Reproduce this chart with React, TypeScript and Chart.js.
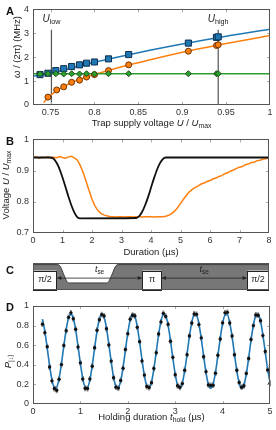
import React, { useEffect, useRef } from "react";
import { Chart, registerables } from "chart.js";
Chart.register(...registerables);

const FONT = '"Liberation Sans", Arial, sans-serif';

// ---------------- Panel A data ----------------
const aTicksX = [0.75, 0.8, 0.85, 0.9, 0.95, 1];
const aTickLabelsX = ["0.75", "0.8", "0.85", "0.9", "0.95", "1"];
const aTicksY = [0, 1, 2, 3, 4];
const aTickLabelsY = ["0", "1", "2", "3", "4"];
const blueX = [0.738, 0.747, 0.756, 0.765, 0.774, 0.783, 0.791, 0.8, 0.816, 0.839, 0.907, 0.939, 0.941];
const blueY = [1.27, 1.33, 1.44, 1.52, 1.61, 1.68, 1.75, 1.8, 1.93, 2.11, 2.59, 2.83, 2.85];
const orangeX = [0.747, 0.757, 0.765, 0.774, 0.783, 0.791, 0.8, 0.816, 0.839, 0.907, 0.939, 0.941];
const orangeY = [0.33, 0.63, 0.76, 0.95, 1.04, 1.17, 1.27, 1.44, 1.68, 2.25, 2.49, 2.52];
const greenX = [0.738, 0.747, 0.756, 0.765, 0.774, 0.783, 0.791, 0.8, 0.816, 0.839, 0.907, 0.939, 0.941];
const greenY = [1.3, 1.31, 1.31, 1.3, 1.31, 1.3, 1.31, 1.3, 1.31, 1.31, 1.31, 1.31, 1.31];
const blueFitX = [0.73, 0.75, 0.8, 0.85, 0.9, 0.95, 1.0];
const blueFitY = [1.2, 1.33, 1.79, 2.19, 2.55, 2.88, 3.17];
const orangeFitX = [0.742, 0.745, 0.75, 0.76, 0.77, 0.78, 0.8, 0.825, 0.85, 0.9, 0.95, 1.0];
const orangeFitY = [0.1, 0.22, 0.4, 0.66, 0.87, 1.03, 1.28, 1.54, 1.77, 2.21, 2.57, 2.91];
const greenFitX = [0.73, 1.0];
const greenFitY = [1.31, 1.31];
const uLow = 0.751;
const uHigh = 0.941;
const uLineTop = 3.15;

// ---------------- Panel B data ----------------
const bTicksX = [0, 1, 2, 3, 4, 5, 6, 7, 8];
const bTickLabelsX = ["0", "1", "2", "3", "4", "5", "6", "7", "8"];
const bTicksY = [0.7, 0.8, 0.9, 1];
const bTickLabelsY = ["0.7", "0.8", "0.9", "1"];
const blackT = [0, 0.6, 0.7, 0.8, 0.9, 1.0, 1.1, 1.2, 1.3, 1.4, 1.5, 1.6, 3.5, 3.6, 3.7, 3.8, 3.9, 4.0, 4.1, 4.2, 4.3, 4.4, 4.5, 8];
const blackV = [0.942, 0.942, 0.938, 0.925, 0.905, 0.878, 0.848, 0.817, 0.789, 0.766, 0.751, 0.747, 0.748, 0.754, 0.768, 0.789, 0.815, 0.845, 0.875, 0.902, 0.923, 0.937, 0.942, 0.942];
const measStep = 0.1;
const measV = [
  0.942, 0.944, 0.94, 0.943, 0.941, 0.944, 0.94, 0.943, 0.941, 0.945, 0.942, 0.94, 0.944, 0.946, 0.941,
  0.934, 0.917, 0.894, 0.866, 0.836, 0.808, 0.787, 0.772, 0.763, 0.758, 0.755, 0.753,
  0.752, 0.751, 0.752, 0.752, 0.751, 0.752, 0.752, 0.751, 0.752, 0.752, 0.751, 0.752, 0.752, 0.752, 0.751, 0.752, 0.752, 0.752,
  0.754, 0.757, 0.762, 0.77, 0.781, 0.794, 0.808, 0.821, 0.832, 0.84, 0.846, 0.851, 0.857, 0.86, 0.865, 0.868,
  0.873, 0.876, 0.881, 0.884, 0.89, 0.893, 0.899, 0.902, 0.907, 0.911, 0.913, 0.919, 0.921, 0.926, 0.927, 0.932,
  0.933, 0.937, 0.938, 0.942,
];

// ---------------- Panel C data ----------------
const cLevelX = [0, 10.5, 11.5, 13, 14.5, 15.5, 31, 32, 33.5, 35, 36, 100];
const cLevelY = [0.94, 0.94, 0.88, 0.58, 0.3, 0.26, 0.26, 0.3, 0.58, 0.88, 0.94, 0.94];
const cPulseStart = [0, 46.1, 90.5];
const cPulseEnd = [10.3, 54.6, 100];
const cPulseLabels = ["π/2", "π", "π/2"];

// ---------------- Panel D data ----------------
const dTicksX = [0, 1, 2, 3, 4, 5];
const dTickLabelsX = ["0", "1", "2", "3", "4", "5"];
const dTicksY = [0, 0.2, 0.4, 0.6, 0.8, 1];
const dTickLabelsY = ["0", "0.2", "0.4", "0.6", "0.8", "1"];
const holdStart = 0.2;
const holdStep = 0.05;
const popData = [
  0.815, 0.728, 0.585, 0.378, 0.236, 0.158, 0.14, 0.252, 0.402, 0.598, 0.748, 0.884, 0.93,
  0.87, 0.762, 0.582, 0.42, 0.255, 0.16, 0.158, 0.256, 0.385, 0.575, 0.752, 0.86,
  0.912, 0.898, 0.768, 0.602, 0.438, 0.268, 0.172, 0.162, 0.24, 0.365, 0.556, 0.718,
  0.866, 0.905, 0.899, 0.782, 0.636, 0.44, 0.295, 0.178, 0.168, 0.218, 0.362, 0.523,
  0.714, 0.838, 0.925, 0.894, 0.812, 0.641, 0.476, 0.298, 0.186, 0.17, 0.208, 0.345,
  0.502, 0.695, 0.826, 0.918, 0.915, 0.81, 0.675, 0.482, 0.33, 0.195, 0.19, 0.192,
  0.315, 0.498, 0.663, 0.828, 0.93, 0.935, 0.826, 0.694, 0.502, 0.345, 0.22, 0.172,
  0.186, 0.312, 0.464, 0.658, 0.8, 0.908, 0.905, 0.85, 0.698, 0.536, 0.348, 0.212,
];
const popFit = [
  0.867, 0.742, 0.57, 0.392, 0.248, 0.169, 0.173, 0.261, 0.411, 0.59, 0.758, 0.877, 0.92,
  0.877, 0.758, 0.59, 0.411, 0.261, 0.173, 0.169, 0.248, 0.392, 0.57, 0.742, 0.867,
  0.919, 0.886, 0.774, 0.61, 0.43, 0.275, 0.179, 0.165, 0.235, 0.374, 0.55, 0.724,
  0.857, 0.918, 0.894, 0.79, 0.63, 0.449, 0.289, 0.186, 0.162, 0.224, 0.356, 0.53,
  0.707, 0.845, 0.915, 0.901, 0.805, 0.649, 0.469, 0.305, 0.194, 0.161, 0.213, 0.339,
  0.51, 0.688, 0.833, 0.912, 0.906, 0.819, 0.668, 0.489, 0.321, 0.202, 0.16, 0.203,
  0.322, 0.491, 0.67, 0.82, 0.907, 0.911, 0.832, 0.687, 0.509, 0.338, 0.212, 0.16,
  0.194, 0.306, 0.471, 0.651, 0.806, 0.901, 0.915, 0.844, 0.705, 0.529, 0.355, 0.223,
];
const popErr = 0.03;

// ---------------- helpers ----------------
type Seg = { t: string; it?: boolean; sub?: boolean };

function drawRich(ctx: CanvasRenderingContext2D, segs: Seg[], x: number, y: number, size: number, rotate = false, color = "#222") {
  ctx.save();
  ctx.translate(x, y);
  if (rotate) ctx.rotate(-Math.PI / 2);
  const fontFor = (s: Seg) => `${s.it ? "italic " : ""}${s.sub ? size * 0.72 : size}px ${FONT}`;
  let total = 0;
  const widths = segs.map((s) => {
    ctx.font = fontFor(s);
    const w = ctx.measureText(s.t).width;
    total += w;
    return w;
  });
  let cx = -total / 2;
  ctx.fillStyle = color;
  ctx.textBaseline = "middle";
  ctx.textAlign = "left";
  segs.forEach((s, i) => {
    ctx.font = fontFor(s);
    ctx.fillText(s.t, cx, s.sub ? size * 0.3 : 0);
    cx += widths[i];
  });
  ctx.restore();
}

function axis(min: number, max: number, ticks: number[], labels: string[], size: number, isX: boolean) {
  return {
    type: "linear" as const,
    min,
    max,
    grid: { display: false, drawTicks: false },
    border: { display: false },
    ticks: {
      font: { family: FONT, size: 9 },
      color: "#333",
      padding: isX ? 2 : 4,
      autoSkip: false,
      maxRotation: 0,
      callback: (v: any) => {
        const i = ticks.findIndex((t) => Math.abs(t - v) < 1e-9);
        return i >= 0 ? labels[i] : "";
      },
    },
    afterBuildTicks: (s: any) => {
      s.ticks = ticks.map((v) => ({ value: v }));
    },
    afterFit: (s: any) => {
      if (isX) s.height = size;
      else s.width = size;
    },
  };
}

type FrameCfg = {
  letter: string;
  letterY: number;
  xTitle?: Seg[];
  xTitleY?: number;
  yTitle?: Seg[];
  yTitleX?: number;
  yTitleY?: number;
  innerTicks?: boolean;
  extra?: (chart: any) => void;
  under?: (chart: any) => void;
};

function framePlugin(cfg: FrameCfg) {
  return {
    id: "frame",
    beforeDatasetsDraw(chart: any) {
      if (cfg.under) cfg.under(chart);
    },
    afterDraw(chart: any) {
      const ctx: CanvasRenderingContext2D = chart.ctx;
      const a = chart.chartArea;
      ctx.save();
      if (cfg.extra) cfg.extra(chart);
      if (cfg.innerTicks !== false) {
        ctx.strokeStyle = "#aaa";
        ctx.lineWidth = 1;
        const xs = chart.scales.x;
        const ys = chart.scales.y;
        ctx.beginPath();
        xs.ticks.forEach((t: any) => {
          const px = Math.round(xs.getPixelForValue(t.value)) + 0.5;
          if (px <= a.left + 1 || px >= a.right - 1) return;
          ctx.moveTo(px, a.bottom);
          ctx.lineTo(px, a.bottom - 3);
          ctx.moveTo(px, a.top);
          ctx.lineTo(px, a.top + 3);
        });
        ys.ticks.forEach((t: any) => {
          const py = Math.round(ys.getPixelForValue(t.value)) + 0.5;
          if (py <= a.top + 1 || py >= a.bottom - 1) return;
          ctx.moveTo(a.left, py);
          ctx.lineTo(a.left + 3, py);
          ctx.moveTo(a.right, py);
          ctx.lineTo(a.right - 3, py);
        });
        ctx.stroke();
      }
      ctx.strokeStyle = "#555";
      ctx.lineWidth = 1;
      ctx.strokeRect(Math.round(a.left) + 0.5, Math.round(a.top) + 0.5, Math.round(a.right - a.left) - 1, Math.round(a.bottom - a.top) - 1);
      if (cfg.xTitle) drawRich(ctx, cfg.xTitle, (a.left + a.right) / 2, cfg.xTitleY!, 9.5);
      if (cfg.yTitle) drawRich(ctx, cfg.yTitle, cfg.yTitleX!, cfg.yTitleY ?? (a.top + a.bottom) / 2, 9.5, true);
      ctx.font = `bold 11px ${FONT}`;
      ctx.fillStyle = "#111";
      ctx.textAlign = "center";
      ctx.textBaseline = "middle";
      ctx.fillText(cfg.letter, 10, cfg.letterY);
      ctx.restore();
    },
  };
}

const base = {
  responsive: false,
  animation: false as const,
  devicePixelRatio: 1,
  events: [] as any[],
  plugins: { legend: { display: false }, tooltip: { enabled: false } },
};

const BLUE = "#1f77b4";
const ORANGE = "#ff7f0e";
const GREEN = "#2ca02c";

function zip(xs: number[], ys: number[]) {
  return xs.map((x, i) => ({ x, y: ys[i] }));
}

export default function App() {
  const rA = useRef<HTMLCanvasElement>(null);
  const rB = useRef<HTMLCanvasElement>(null);
  const rC = useRef<HTMLCanvasElement>(null);
  const rD = useRef<HTMLCanvasElement>(null);

  useEffect(() => {
    const charts: Chart[] = [];

    // ----- Panel A -----
    charts.push(
      new Chart(rA.current!, {
        type: "scatter",
        data: {
          datasets: [
            { data: zip(greenX, greenY), pointStyle: "rectRot", pointRadius: 3, backgroundColor: GREEN, borderColor: "#1b4d1b", borderWidth: 1 },
            { data: zip(orangeX, orangeY), pointStyle: "circle", pointRadius: 3, backgroundColor: ORANGE, borderColor: "#6b3300", borderWidth: 1 },
            { data: zip(blueX, blueY), pointStyle: "rect", pointRadius: 4.3, backgroundColor: BLUE, borderColor: "#0f2f4f", borderWidth: 1 },
            { data: zip(greenFitX, greenFitY), showLine: true, pointRadius: 0, borderColor: GREEN, borderWidth: 1.5 },
            { data: zip(orangeFitX, orangeFitY), showLine: true, pointRadius: 0, borderColor: ORANGE, borderWidth: 1.5, cubicInterpolationMode: "monotone" },
            { data: zip(blueFitX, blueFitY), showLine: true, pointRadius: 0, borderColor: BLUE, borderWidth: 1.5, cubicInterpolationMode: "monotone" },
            { data: [{ x: uLow, y: 0 }, { x: uLow, y: uLineTop }], showLine: true, pointRadius: 0, borderColor: "#555", borderWidth: 1.2 },
            { data: [{ x: uHigh, y: 0 }, { x: uHigh, y: uLineTop }], showLine: true, pointRadius: 0, borderColor: "#555", borderWidth: 1.2 },
          ] as any,
        },
        options: {
          ...base,
          layout: { padding: { top: 5, right: 6, left: 0, bottom: 0 } },
          scales: {
            x: axis(0.73, 1, aTicksX, aTickLabelsX, 25, true),
            y: axis(0, 4, aTicksY, aTickLabelsY, 33, false),
          } as any,
        },
        plugins: [
          framePlugin({
            letter: "A",
            letterY: 12,
            xTitle: [{ t: "Trap supply voltage " }, { t: "U", it: true }, { t: " / " }, { t: "U", it: true }, { t: "max", sub: true }],
            xTitleY: 123,
            yTitle: [{ t: "ω", it: true }, { t: " / (2π) (MHz)" }],
            yTitleX: 17,
            yTitleY: 47,
            extra: (chart) => {
              const ctx = chart.ctx;
              const xs = chart.scales.x;
              drawRich(ctx, [{ t: "U", it: true }, { t: "low", sub: true }], xs.getPixelForValue(uLow), 19, 10);
              drawRich(ctx, [{ t: "U", it: true }, { t: "high", sub: true }], xs.getPixelForValue(uHigh), 19, 10);
            },
          }) as any,
        ],
      })
    );

    // ----- Panel B -----
    const measData = measV.map((v, i) => ({ x: i * measStep, y: v }));
    charts.push(
      new Chart(rB.current!, {
        type: "scatter",
        data: {
          datasets: [
            { data: zip(blackT, blackV), showLine: true, pointRadius: 0, borderColor: "#111", borderWidth: 1.8, cubicInterpolationMode: "monotone" },
            { data: measData, showLine: true, pointRadius: 0, borderColor: ORANGE, borderWidth: 1.5 },
          ] as any,
        },
        options: {
          ...base,
          layout: { padding: { top: 7, right: 7, left: 0, bottom: 0 } },
          scales: {
            x: axis(0, 8, bTicksX, bTickLabelsX, 27, true),
            y: axis(0.7, 1, bTicksY, bTickLabelsY, 33, false),
          } as any,
        },
        plugins: [
          framePlugin({
            letter: "B",
            letterY: 12,
            xTitle: [{ t: "Duration (µs)" }],
            xTitleY: 122,
            yTitle: [{ t: "Voltage " }, { t: "U", it: true }, { t: " / " }, { t: "U", it: true }, { t: "max", sub: true }],
            yTitleX: 6,
            yTitleY: 55,
          }) as any,
        ],
      })
    );

    // ----- Panel C -----
    charts.push(
      new Chart(rC.current!, {
        type: "scatter",
        data: {
          datasets: [
            {
              data: zip(cLevelX, cLevelY),
              showLine: true,
              pointRadius: 0,
              borderColor: "#3a3a3a",
              borderWidth: 1,
              backgroundColor: "#777",
              fill: "start",
              cubicInterpolationMode: "monotone",
            },
          ] as any,
        },
        options: {
          ...base,
          layout: { padding: { top: 5, right: 7, left: 33, bottom: 4 } },
          scales: {
            x: { type: "linear", min: 0, max: 100, display: false },
            y: { type: "linear", min: 0, max: 1, display: false },
          } as any,
        },
        plugins: [
          framePlugin({
            letter: "C",
            letterY: 13,
            innerTicks: false,
            extra: (chart) => {
              const ctx: CanvasRenderingContext2D = chart.ctx;
              const xs = chart.scales.x;
              const ys = chart.scales.y;
              const yb = ys.getPixelForValue(0.03);
              const yt = ys.getPixelForValue(0.72);
              const ya = ys.getPixelForValue(0.44);
              ctx.strokeStyle = "#222";
              ctx.fillStyle = "#222";
              ctx.lineWidth = 0.8;
              for (let i = 0; i < cPulseStart.length - 1; i++) {
                const x0 = xs.getPixelForValue(cPulseEnd[i]);
                const x1 = xs.getPixelForValue(cPulseStart[i + 1]);
                ctx.beginPath();
                ctx.moveTo(x0, ya);
                ctx.lineTo(x1, ya);
                ctx.stroke();
                ctx.beginPath();
                ctx.moveTo(x0, ya);
                ctx.lineTo(x0 + 4, ya - 2);
                ctx.lineTo(x0 + 4, ya + 2);
                ctx.closePath();
                ctx.moveTo(x1, ya);
                ctx.lineTo(x1 - 4, ya - 2);
                ctx.lineTo(x1 - 4, ya + 2);
                ctx.closePath();
                ctx.fill();
                drawRich(ctx, [{ t: "t", it: true }, { t: "se", sub: true }], (x0 + x1) / 2, ys.getPixelForValue(0.76), 9);
              }
              for (let i = 0; i < cPulseStart.length; i++) {
                const x0 = Math.round(xs.getPixelForValue(cPulseStart[i])) + 0.5;
                const x1 = Math.round(xs.getPixelForValue(cPulseEnd[i])) - 0.5;
                ctx.fillStyle = "#fff";
                ctx.fillRect(x0, yt, x1 - x0, yb - yt);
                ctx.strokeStyle = "#222";
                ctx.lineWidth = 1;
                ctx.strokeRect(x0, Math.round(yt) + 0.5, x1 - x0, Math.round(yb - yt));
                drawRich(ctx, [{ t: cPulseLabels[i] }], (x0 + x1) / 2, (yt + yb) / 2, 9);
              }
            },
          }) as any,
        ],
      })
    );

    // ----- Panel D -----
    const tHold = popData.map((_, i) => holdStart + i * holdStep);
    charts.push(
      new Chart(rD.current!, {
        type: "scatter",
        data: {
          datasets: [
            { data: zip(tHold, popData), pointStyle: "circle", pointRadius: 1.7, backgroundColor: "#111", borderColor: "#111", borderWidth: 0 },
            { data: zip(tHold, popFit), showLine: true, pointRadius: 0, borderColor: BLUE, borderWidth: 1.6, cubicInterpolationMode: "monotone" },
          ] as any,
        },
        options: {
          ...base,
          layout: { padding: { top: 12, right: 6, left: 0, bottom: 0 } },
          scales: {
            x: axis(0, 5, dTicksX, dTickLabelsX, 26, true),
            y: axis(0, 1, dTicksY, dTickLabelsY, 33, false),
          } as any,
        },
        plugins: [
          framePlugin({
            letter: "D",
            letterY: 14,
            xTitle: [{ t: "Holding duration " }, { t: "t", it: true }, { t: "hold", sub: true }, { t: " (µs)" }],
            xTitleY: 123,
            yTitle: [{ t: "P", it: true }, { t: "|↓⟩", sub: true }],
            yTitleX: 8,
            yTitleY: 67,
            under: (chart) => {
              const ctx: CanvasRenderingContext2D = chart.ctx;
              const xs = chart.scales.x;
              const ys = chart.scales.y;
              ctx.save();
              ctx.strokeStyle = "#8c8c8c";
              ctx.lineWidth = 2;
              ctx.beginPath();
              tHold.forEach((t, i) => {
                const px = xs.getPixelForValue(t);
                ctx.moveTo(px, ys.getPixelForValue(popData[i] - popErr));
                ctx.lineTo(px, ys.getPixelForValue(popData[i] + popErr));
              });
              ctx.stroke();
              ctx.restore();
            },
          }) as any,
        ],
      })
    );

    return () => charts.forEach((c) => c.destroy());
  }, []);

  const pos = (top: number): React.CSSProperties => ({ position: "absolute", left: 0, top, display: "block" });

  return (
    <div style={{ position: "fixed", left: 0, top: 0, width: 276, height: 430, background: "#fff", overflow: "hidden" }}>
      <canvas ref={rA} width={276} height={130} style={pos(0)} />
      <canvas ref={rB} width={276} height={130} style={pos(130)} />
      <canvas ref={rC} width={276} height={36} style={pos(258)} />
      <canvas ref={rD} width={276} height={136} style={pos(294)} />
    </div>
  );
}
